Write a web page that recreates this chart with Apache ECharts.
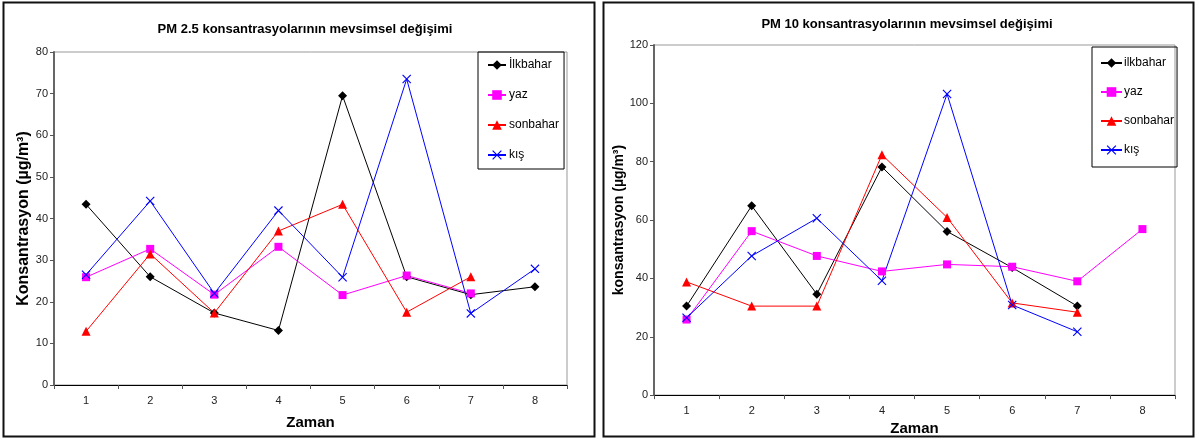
<!DOCTYPE html>
<html>
<head>
<meta charset="utf-8">
<script src="https://cdn.jsdelivr.net/npm/echarts@6/dist/echarts.min.js"></script>
<style>
  html, body { margin: 0; padding: 0; background: #fff; }
  #chart { width: 1199px; height: 441px; }
</style>
</head>
<body>
<div id="chart"></div>
<script>
const zaman = ["1", "2", "3", "4", "5", "6", "7", "8"];

// PM 2.5
const pm25Ilkbahar = [43.4, 26.0, 17.3, 13.1, 69.5, 26.0, 21.7, 23.6];
const pm25Yaz = [25.9, 32.7, 21.7, 33.2, 21.6, 26.3, 22.0, null];
const pm25Sonbahar = [12.9, 31.5, 17.3, 37.0, 43.4, 17.5, 26.0, null];
const pm25Kis = [26.5, 44.2, 22.0, 41.9, 25.9, 73.5, 17.2, 27.9];

// PM 10
const pm10Ilkbahar = [30.5, 64.9, 34.6, 78.2, 56.1, 43.7, 30.5, null];
const pm10Yaz = [25.9, 56.2, 47.7, 42.4, 44.8, 44.0, 39.0, 56.9];
const pm10Sonbahar = [38.8, 30.5, 30.5, 82.4, 60.9, 31.6, 28.4, null];
const pm10Kis = [26.5, 47.7, 60.6, 39.2, 103.2, 30.9, 21.7, null];

const FONT = "'Liberation Sans', Arial, sans-serif";
const crossPath = "path://M0,0.9L0.9,0L5,4.1L9.1,0L10,0.9L5.9,5L10,9.1L9.1,10L5,5.9L0.9,10L0,9.1L4.1,5Z";

const styles = {
  ilk: { color: "#000000", symbol: "diamond", size: 9 },
  yaz: { color: "#ff00ff", symbol: "rect", size: 8 },
  son: { color: "#ff0000", symbol: "triangle", size: 9 },
  kis: { color: "#0000ff", symbol: crossPath, size: 9 }
};

function line(name, data, st, idx) {
  return {
    type: "line",
    name: name,
    data: data,
    xAxisIndex: idx,
    yAxisIndex: idx,
    symbol: st.symbol,
    symbolSize: st.size,
    showSymbol: true,
    lineStyle: { color: st.color, width: 1 },
    itemStyle: { color: st.color },
    emphasis: { disabled: true },
    animation: false
  };
}

function xAx(idx, gap) {
  return {
    type: "category",
    gridIndex: idx,
    data: zaman,
    name: "Zaman",
    nameLocation: "middle",
    nameGap: gap,
    nameTextStyle: { fontFamily: FONT, fontSize: 15, fontWeight: "bold", color: "#000" },
    axisLine: { lineStyle: { color: "#000", width: 1 } },
    axisTick: { show: true, length: 4, lineStyle: { color: "#555" } },
    axisLabel: { fontFamily: FONT, fontSize: 11, color: "#222", margin: 10 },
    splitLine: { show: false }
  };
}

function yAx(idx, max, interval, name, size, gap) {
  return {
    type: "value",
    gridIndex: idx,
    min: 0,
    max: max,
    interval: interval,
    name: name,
    nameLocation: "middle",
    nameRotate: 90,
    nameGap: gap,
    nameTextStyle: { fontFamily: FONT, fontSize: size, fontWeight: "bold", color: "#000" },
    axisLine: { show: true, lineStyle: { color: "#666", width: 2 } },
    axisTick: { show: true, length: 4, lineStyle: { color: "#555" } },
    axisLabel: { fontFamily: FONT, fontSize: 11, color: "#222", margin: 6 },
    splitLine: { show: false }
  };
}

const chart = echarts.init(document.getElementById("chart"));

chart.setOption({
  backgroundColor: "#fff",
  animation: false,
  title: [
    {
      text: "PM 2.5 konsantrasyolarının mevsimsel değişimi",
      left: 300, top: 18, textAlign: "center",
      textStyle: { fontFamily: FONT, fontSize: 13, fontWeight: "bold", color: "#000" }
    },
    {
      text: "PM 10 konsantrasyolarının mevsimsel değişimi",
      left: 902, top: 13, textAlign: "center",
      textStyle: { fontFamily: FONT, fontSize: 13, fontWeight: "bold", color: "#000" }
    }
  ],
  legend: [
    {
      data: ["İlkbahar", "yaz", "sonbahar", "kış"],
      orient: "vertical",
      left: 478, top: 52,
      padding: [7, 5, 8, 9],
      itemGap: 18, itemWidth: 18, itemHeight: 12,
      borderColor: "#000", borderWidth: 1,
      selectedMode: false,
      textStyle: { fontFamily: FONT, fontSize: 12, color: "#000", padding: [0, 0, 0, -2] }
    },
    {
      data: ["ilkbahar", "yaz", "sonbahar", "kış"],
      orient: "vertical",
      left: 1092, top: 47,
      padding: [10, 3, 11, 8],
      itemGap: 17, itemWidth: 21, itemHeight: 12,
      borderColor: "#000", borderWidth: 1,
      selectedMode: false,
      textStyle: { fontFamily: FONT, fontSize: 12, color: "#000", padding: [0, 0, 0, -3] }
    }
  ],
  grid: [
    { left: 54, top: 52, width: 513, height: 333, show: true, borderColor: "#999", borderWidth: 1 },
    { left: 654, top: 45, width: 521, height: 351, show: true, borderColor: "#999", borderWidth: 1 }
  ],
  xAxis: [xAx(0, 30), xAx(1, 23)],
  yAxis: [
    yAx(0, 80, 10, "Konsantrasyon (µg/m³)", 16, 20),
    yAx(1, 120, 20, "konsantrasyon (µg/m³)", 14, 24)
  ],
  series: [
    line("İlkbahar", pm25Ilkbahar, styles.ilk, 0),
    line("yaz", pm25Yaz, styles.yaz, 0),
    line("sonbahar", pm25Sonbahar, styles.son, 0),
    line("kış", pm25Kis, styles.kis, 0),
    line("ilkbahar", pm10Ilkbahar, styles.ilk, 1),
    line("yaz", pm10Yaz, styles.yaz, 1),
    line("sonbahar", pm10Sonbahar, styles.son, 1),
    line("kış", pm10Kis, styles.kis, 1)
  ],
  graphic: [
    { type: "rect", shape: { x: 3.5, y: 2.5, width: 591, height: 434 }, style: { fill: "none", stroke: "#111", lineWidth: 2 }, silent: true },
    { type: "rect", shape: { x: 603.5, y: 2.5, width: 590, height: 434 }, style: { fill: "none", stroke: "#111", lineWidth: 2 }, silent: true }
  ]
});
</script>
</body>
</html>
